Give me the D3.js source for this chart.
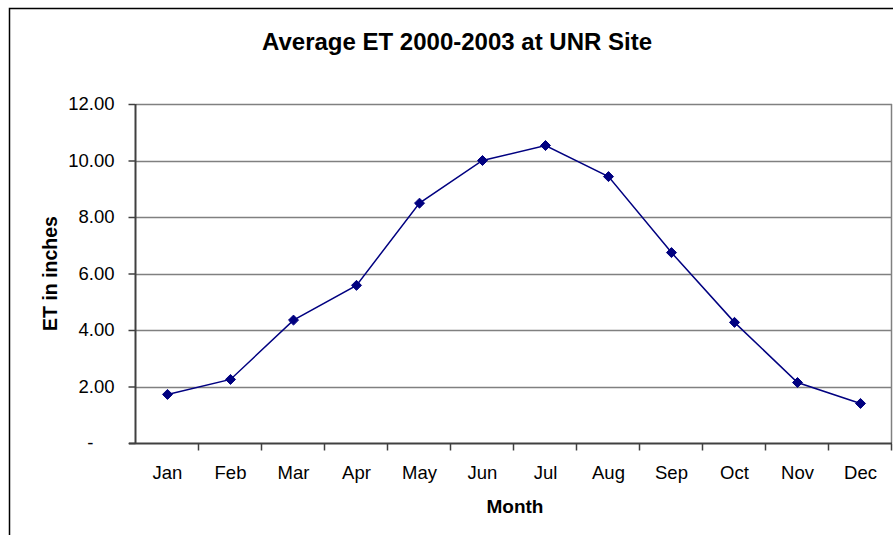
<!DOCTYPE html>
<html>
<head>
<meta charset="utf-8">
<script src="https://cdn.jsdelivr.net/npm/d3@7"></script>
<style>
  body { margin: 0; background: #fff; }
  svg { font-family: "Liberation Sans", Arial, sans-serif; }
</style>
</head>
<body>
<div id="chart"></div>
<script>
// data
var months = ['Jan', 'Feb', 'Mar', 'Apr', 'May', 'Jun', 'Jul', 'Aug', 'Sep', 'Oct', 'Nov', 'Dec'];
var etValues = [1.72, 2.25, 4.35, 5.58, 8.49, 10.00, 10.53, 9.43, 6.74, 4.27, 2.14, 1.40];
var yTicks = [0, 2, 4, 6, 8, 10, 12];

var width = 893;
var height = 535;
var marginLeft = 136;
var marginRight = 1;
var marginTop = 104;
var marginBottom = 92;

var svg = d3.select("#chart")
    .append("svg")
    .attr("width", width)
    .attr("height", height);

// outer chart border
svg.append("rect")
    .attr("x", 9.5)
    .attr("y", 8.5)
    .attr("width", width + 20)
    .attr("height", height + 20)
    .attr("fill", "none")
    .attr("stroke", "#000")
    .attr("stroke-width", 1.5);

var x = d3.scaleBand()
    .domain(months)
    .range([marginLeft, width - marginRight]);

var y = d3.scaleLinear()
    .domain([0, 12])
    .range([height - marginBottom, marginTop]);

// gridlines
svg.append("g")
    .selectAll("line")
    .data(yTicks.slice(1))
    .enter()
    .append("line")
    .attr("x1", marginLeft)
    .attr("x2", width - marginRight)
    .attr("y1", function (d) { return Math.round(y(d)) + 0.5; })
    .attr("y2", function (d) { return Math.round(y(d)) + 0.5; })
    .attr("stroke", "#808080")
    .attr("stroke-width", 1.5);

// right edge of plot area
svg.append("line")
    .attr("x1", width - marginRight - 0.5)
    .attr("x2", width - marginRight - 0.5)
    .attr("y1", y(12))
    .attr("y2", y(0))
    .attr("stroke", "#808080")
    .attr("stroke-width", 1.5);

// y axis
var yAxis = d3.axisLeft(y)
    .tickValues(yTicks)
    .tickSize(7)
    .tickPadding(14)
    .tickFormat(function (d) { return d == 0 ? "-" : d3.format(".2f")(d); });

svg.append("g")
    .attr("class", "y axis")
    .attr("transform", "translate(" + (marginLeft - 0.5) + ",0)")
    .call(yAxis)
    .call(function (g) {
        g.select(".domain").attr("stroke", "#404040").attr("stroke-width", 2).attr("d", "M0," + y(12) + "V" + y(0));
        g.selectAll(".tick line").attr("stroke", "#404040").attr("stroke-width", 1.5);
        g.selectAll("text").attr("fill", "#000").style("font-size", "18.5px");
        // accounting style zero sits further left
        g.selectAll(".tick text").filter(function (d) { return d == 0; }).attr("dx", -21);
    });

// x axis, ticks sit between categories
svg.append("g")
    .attr("class", "x axis")
    .attr("transform", "translate(0," + (Math.round(y(0)) + 0.5) + ")")
    .call(function (g) {
        g.append("line")
            .attr("x1", marginLeft - 7)
            .attr("x2", width - marginRight)
            .attr("stroke", "#404040")
            .attr("stroke-width", 2);
        var edges = months.map(function (m) { return x(m); }).concat([x(months[11]) + x.bandwidth()]);
        g.selectAll(".xtick")
            .data(edges.slice(1))
            .enter()
            .append("line")
            .attr("x1", function (d) { return Math.round(d) - 0.5; })
            .attr("x2", function (d) { return Math.round(d) - 0.5; })
            .attr("y1", 0)
            .attr("y2", 7)
            .attr("stroke", "#404040")
            .attr("stroke-width", 1.5);
        g.selectAll(".xlabel")
            .data(months)
            .enter()
            .append("text")
            .attr("x", function (d) { return x(d) + x.bandwidth() / 2; })
            .attr("y", 35)
            .attr("text-anchor", "middle")
            .style("font-size", "18.5px")
            .text(function (d) { return d; });
    });

// line
var line = d3.line()
    .x(function (d, i) { return x(months[i]) + x.bandwidth() / 2; })
    .y(function (d) { return y(d); });

svg.append("path")
    .datum(etValues)
    .attr("d", line)
    .attr("fill", "none")
    .attr("stroke", "#000080")
    .attr("stroke-width", 1.5);

// diamond markers
svg.append("g")
    .selectAll("path")
    .data(etValues)
    .enter()
    .append("path")
    .attr("d", d3.symbol().type(d3.symbolDiamond2).size(64))
    .attr("transform", function (d, i) { return "translate(" + (x(months[i]) + x.bandwidth() / 2) + "," + y(d) + ")"; })
    .attr("fill", "#000080")
    .attr("stroke", "#000080")
    .attr("stroke-width", 1);

// titles
svg.append("text")
    .attr("x", 457)
    .attr("y", 50)
    .attr("text-anchor", "middle")
    .attr("font-weight", "bold")
    .style("font-size", "24px")
    .text("Average ET 2000-2003 at UNR Site");

svg.append("text")
    .attr("transform", "translate(57," + ((y(0) + y(12)) / 2) + ") rotate(-90)")
    .attr("text-anchor", "middle")
    .attr("font-weight", "bold")
    .style("font-size", "19.5px")
    .text("ET in inches");

svg.append("text")
    .attr("x", 515)
    .attr("y", 513)
    .attr("text-anchor", "middle")
    .attr("font-weight", "bold")
    .style("font-size", "19px")
    .text("Month");
</script>
</body>
</html>
